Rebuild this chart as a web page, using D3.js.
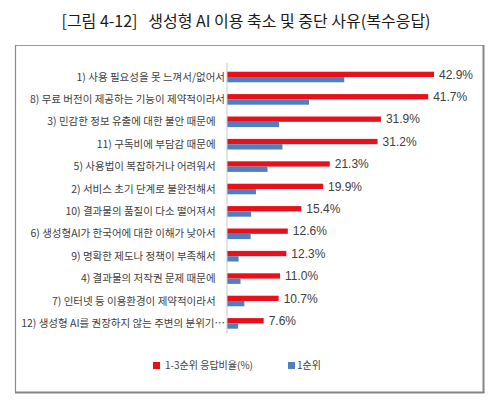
<!DOCTYPE html>
<html><head><meta charset="utf-8">
<script src="https://cdn.jsdelivr.net/npm/d3@7"></script>
<style>
html,body{margin:0;padding:0;background:#fff;}
svg{display:block;}
</style></head>
<body>
<svg id="chart" width="500" height="404"></svg>
<script>
const title = "[그림 4-12]   생성형 AI 이용 축소 및 중단 사유(복수응답)";
const categories = [
  "1) 사용 필요성을 못 느껴서/없어서",
  "8) 무료 버전이 제공하는 기능이 제약적이라서",
  "3) 민감한 정보 유출에 대한 불안 때문에    ",
  "11) 구독비에 부담감 때문에    ",
  "5) 사용법이 복잡하거나 어려워서    ",
  "2) 서비스 초기 단계로 불완전해서    ",
  "10) 결과물의 품질이 다소 떨어져서    ",
  "6) 생성형AI가 한국어에 대한 이해가 낮아서    ",
  "9) 명확한 제도나 정책이 부족해서    ",
  "4) 결과물의 저작권 문제 때문에    ",
  "7) 인터넷 등 이용환경이 제약적이라서    ",
  "12) 생성형 AI를 권장하지 않는 주변의 분위기…"
];
const series = ["1-3순위 응답비율(%)", "1순위"];
const top3 = [42.9, 41.7, 31.9, 31.2, 21.3, 19.9, 15.4, 12.6, 12.3, 11.0, 10.7, 7.6];
const first = [24.3, 17.0, 10.8, 11.5, 8.4, 6.0, 5.0, 4.9, 2.4, 2.8, 3.6, 2.3];
const colors = ["#e8101a", "#4f7fbf"];

const svg = d3.select("#chart");
const KR = "'Noto Sans CJK KR','Noto Sans',sans-serif";

// frame
svg.append("line").attr("x1",15).attr("y1",45.5).attr("x2",483).attr("y2",45.5).attr("stroke","#9a9a9a").attr("stroke-width",1);
svg.append("line").attr("x1",15.5).attr("y1",45).attr("x2",15.5).attr("y2",392).attr("stroke","#8a8a8a").attr("stroke-width",1.2);
svg.append("line").attr("x1",483.5).attr("y1",45).attr("x2",483.5).attr("y2",393).attr("stroke","#858585").attr("stroke-width",2);
svg.append("line").attr("x1",15).attr("y1",392.5).attr("x2",484.5).attr("y2",392.5).attr("stroke","#858585").attr("stroke-width",2);

// title
svg.append("text").attr("x",246).attr("y",26.5).attr("text-anchor","middle")
  .attr("font-family",KR).attr("font-size",16).attr("font-weight",400).attr("fill","#1a1a1a")
  .attr("xml:space","preserve").style("white-space","pre").text(title);

const x = d3.scaleLinear().domain([0, 45]).range([227, 227 + 45*4.825]);
const y = d3.scaleBand().domain(d3.range(categories.length)).range([65.8, 334.6])
  .paddingInner(0.527).paddingOuter(0.2635);
const sub = d3.scaleBand().domain(series).range([0, y.bandwidth()]);

const rows = svg.append("g").selectAll("g").data(categories).join("g")
  .attr("transform",(d,i)=>`translate(0,${y(i)})`);

rows.append("rect").attr("x",x(0)).attr("y",sub(series[0]))
  .attr("width",(d,i)=>x(top3[i])-x(0)).attr("height",sub.bandwidth()).attr("fill",colors[0]);
rows.append("rect").attr("x",x(0)).attr("y",sub(series[1]))
  .attr("width",(d,i)=>x(first[i])-x(0)).attr("height",sub.bandwidth()).attr("fill",colors[1]);

rows.append("text").attr("x",(d,i)=>x(top3[i])+5).attr("y",sub(series[0])+sub.bandwidth()/2)
  .attr("dy","0.36em").attr("font-family","'Liberation Sans Narrow','Liberation Sans',Arial,sans-serif")
  .attr("font-size",12).attr("fill","#404040").text((d,i)=>d3.format(".1f")(top3[i])+"%");

rows.append("text").attr("x",225).attr("y",y.bandwidth()/2).attr("dy","0.35em")
  .attr("text-anchor","end").attr("font-family",KR).attr("font-size",10.5).attr("fill","#404040")
  .attr("xml:space","preserve").style("white-space","pre").text(d=>d);

// axis line
const yAxis = d3.axisLeft(y).tickSize(0).tickFormat("");
svg.append("g").attr("transform",`translate(${x(0)},0)`).call(yAxis)
  .call(g=>g.select(".domain").attr("stroke","#c9c9c9").attr("d",`M0,${y.range()[0]-3}V${y.range()[1]-1}`));

// legend
const legX = [153, 288];
const leg = svg.append("g").selectAll("g").data(series).join("g")
  .attr("transform",(d,i)=>`translate(${legX[i]},362)`);
leg.append("rect").attr("width",7).attr("height",7).attr("fill",(d,i)=>colors[i]);
leg.append("text").attr("x",(d,i)=>i===0?12:9).attr("y",3.5).attr("dy","0.36em")
  .attr("font-family",KR).attr("font-size",10).attr("fill","#404040").text(d=>d);
</script>
</body></html>
